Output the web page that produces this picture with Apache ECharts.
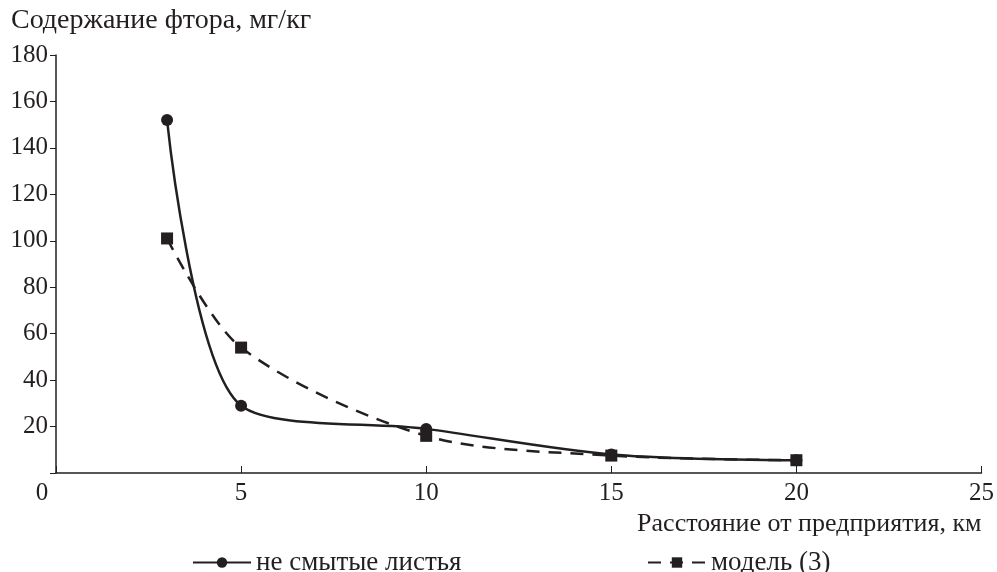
<!DOCTYPE html>
<html>
<head>
<meta charset="utf-8">
<script src="https://cdn.jsdelivr.net/npm/echarts@6/dist/echarts.min.js"></script>
<style>
  html, body { margin: 0; padding: 0; background: #fff; }
  #chart { width: 997px; height: 572px; }
</style>
</head>
<body>
<div id="chart"></div>
<script>
// расстояние, км
var distance = [3, 5, 10, 15, 20];
// содержание фтора, мг/кг
var leaves = [152, 29, 19, 8, 5.5];
var model = [101, 54, 16, 7.5, 5.5];
var leavesName = 'не смытые листья';
var modelName = 'модель (3)';
var yTitle = 'Содержание фтора, мг/кг';
var xTitle = 'Расстояние от предприятия, км';

function pairs(xs, ys) {
  var out = [];
  for (var i = 0; i < xs.length; i++) out.push([xs[i], ys[i]]);
  return out;
}

var font = 'Liberation Serif';
var ink = '#231f20';

var chart = echarts.init(document.getElementById('chart'), null, { renderer: 'canvas' });
chart.setOption({
  animation: false,
  textStyle: { fontFamily: font, color: ink },
  title: {
    text: yTitle,
    left: 6, top: 2,
    textStyle: { fontFamily: font, fontWeight: 'normal', fontSize: 28, color: ink }
  },
  grid: { left: 56, right: 15, top: 55, bottom: 99 },
  legend: [
    {
      top: 544, left: 187,
      itemWidth: 58, itemHeight: 13, itemGap: 0,
      textStyle: { fontFamily: font, fontSize: 27, color: ink },
      data: [leavesName]
    },
    {
      top: 544, left: 642,
      itemWidth: 58, itemHeight: 13, itemGap: 0,
      textStyle: { fontFamily: font, fontSize: 27, color: ink },
      data: [modelName]
    }
  ],
  xAxis: {
    type: 'value', min: 0, max: 25, interval: 5,
    name: xTitle,
    nameLocation: 'end',
    nameGap: 0,
    nameTextStyle: { fontFamily: font, fontSize: 26, color: ink, align: 'right', verticalAlign: 'top', padding: [38, 0, 0, 0] },
    axisLine: { lineStyle: { color: ink, width: 1.5 } },
    axisTick: { inside: true, length: 7, lineStyle: { color: ink } },
    axisLabel: {
      fontFamily: font, fontSize: 25, color: ink, margin: 8,
      formatter: function (v) { return v === 0 ? '{z|0}' : String(v); },
      rich: { z: { fontFamily: font, fontSize: 25, color: ink, padding: [0, 28, 0, 0] } }
    },
    splitLine: { show: false }
  },
  yAxis: {
    type: 'value', min: 0, max: 180, interval: 20,
    axisLine: { show: true, lineStyle: { color: ink, width: 1.5 } },
    axisTick: { show: true, length: 6, lineStyle: { color: ink } },
    axisLabel: {
      fontFamily: font, fontSize: 25, color: ink, margin: 8,
      formatter: function (v) { return v === 0 ? '' : String(v); }
    },
    splitLine: { show: false }
  },
  series: [
    {
      name: leavesName,
      type: 'line',
      smooth: 0.3,
      data: pairs(distance, leaves),
      symbol: 'circle', symbolSize: 12,
      itemStyle: { color: ink },
      lineStyle: { color: ink, width: 2.5 }
    },
    {
      name: modelName,
      type: 'line',
      smooth: 0.3,
      data: pairs(distance, model),
      symbol: 'rect', symbolSize: 12,
      itemStyle: { color: ink },
      lineStyle: { color: ink, width: 2.5, type: [13, 9] }
    }
  ]
});
</script>
</body>
</html>
